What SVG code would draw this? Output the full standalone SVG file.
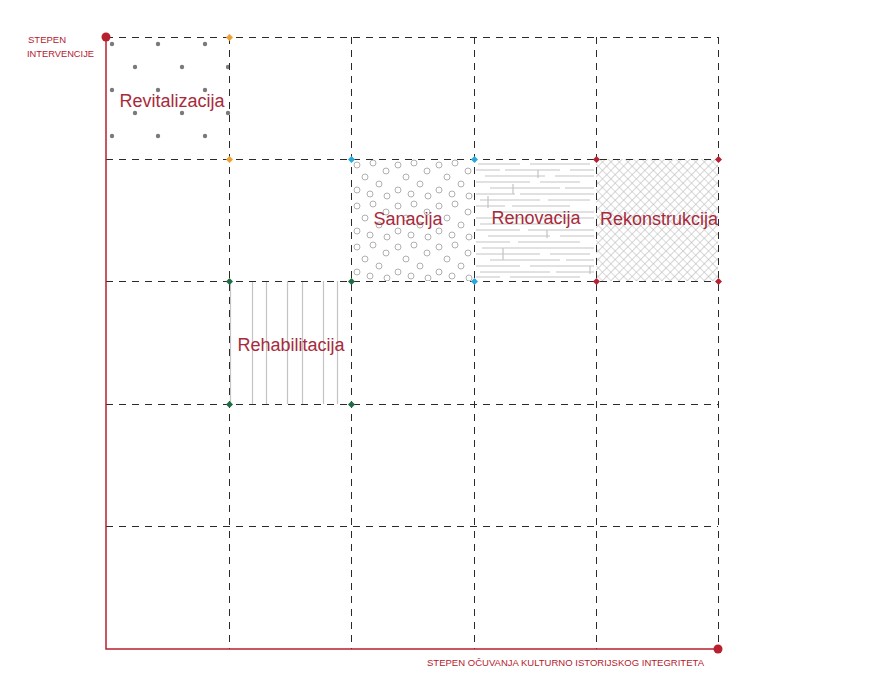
<svg xmlns="http://www.w3.org/2000/svg" width="890" height="694" viewBox="0 0 890 694">
<style>
.grid{stroke:#2a2a2a;stroke-width:1;stroke-dasharray:7 6;fill:none}
.axis{stroke:#b8202f;stroke-width:1.5;fill:none}
.lbl{font-family:"Liberation Sans",Arial,sans-serif;font-size:18px;fill:#a82a3b;text-anchor:middle}
.ax{font-family:"Liberation Sans",Arial,sans-serif;font-size:9.5px;fill:#b5202e}
.pl{stroke:#c4c4c4;stroke-width:1.2;fill:none}
.dot{fill:#7a7a7a}
</style>
<defs>
<path id="dia" d="M0,-3.5 L3.5,0 L0,3.5 L-3.5,0Z"/>
<pattern id="circ" patternUnits="userSpaceOnUse" x="351" y="159" width="41" height="41">
<g fill="none" stroke="#b0b0b0" stroke-width="1">
<circle cx="6" cy="6" r="3"/><circle cx="22" cy="4" r="3"/><circle cx="35" cy="12" r="3"/>
<circle cx="14" cy="18" r="3"/><circle cx="28" cy="25" r="3"/><circle cx="6" cy="31" r="3"/>
<circle cx="19" cy="35" r="3"/><circle cx="36" cy="37" r="3"/>
</g>
</pattern>
<pattern id="hatch" patternUnits="userSpaceOnUse" width="6" height="6" patternTransform="rotate(45)">
<path d="M0,0 H6 M0,0 V6" stroke="#b8b8b8" stroke-width="1.2"/>
</pattern>
</defs>
<rect width="890" height="694" fill="#ffffff"/>

<g id="revitalizacija">
<g class="dot">
<circle cx="112" cy="44" r="2.2"/><circle cx="158" cy="44" r="2.2"/><circle cx="205" cy="44" r="2.2"/>
<circle cx="135" cy="67" r="2.2"/><circle cx="182" cy="67" r="2.2"/><circle cx="228" cy="67" r="2.2"/>
<circle cx="112" cy="90" r="2.2"/><circle cx="158" cy="90" r="2.2"/><circle cx="205" cy="90" r="2.2"/>
<circle cx="135" cy="113" r="2.2"/><circle cx="182" cy="113" r="2.2"/><circle cx="228" cy="113" r="2.2"/>
<circle cx="112" cy="136" r="2.2"/><circle cx="158" cy="136" r="2.2"/><circle cx="205" cy="136" r="2.2"/>
</g>
<text class="lbl" x="172" y="107">Revitalizacija</text>
</g>

<g id="sanacija">
<rect x="351" y="159" width="123" height="122" fill="url(#circ)"/>
</g>

<g id="renovacija">
<g class="pl">
<path d="M478,164H520M530,164H590M476,170H500M505,170H560M570,170H594M485,176H545M555,176H594M476,182H530M540,182H580M490,188H560M565,188H594M476,194H515M520,194H594M480,200H540M548,200H590M476,206H505M512,206H570M495,212H594M476,218H530M540,218H594M480,224H560M476,230H520M528,230H594M488,236H550M560,236H594M476,242H510M518,242H580M482,248H594M476,254H540M550,254H590M490,260H560M566,260H594M476,266H520M530,266H594M480,272H550M556,272H594M476,277H500M510,277H580"/>
<path d="M538,170V178M513,184V194M488,196V208M547,230V238M503,248V260M590,266V274"/>
</g>
</g>

<g id="rekonstrukcija">
<rect x="596" y="159" width="122" height="122" fill="url(#hatch)"/>
</g>

<g id="rehabilitacija">
<g class="pl">
<path d="M230.5,281V404M252.5,281V404M266.5,281V404M287.5,281V404M302.5,281V404M323.5,281V404M337.5,281V404"/>
</g>
</g>

<g id="connectors">
<path class="grid" d="M106,37.5H718M106,159.5H718M106,281.5H718M106,404.5H718M106,526.5H718"/>
<path class="grid" d="M229.5,37V649M351.5,37V649M474.5,37V649M596.5,37V649M718.5,37V649"/>
<path class="axis" d="M106,37V649H718"/>
<circle cx="106" cy="37" r="4.5" fill="#b8202f"/>
<circle cx="718" cy="649" r="4.5" fill="#b8202f"/>
</g>

<g id="markers">
<use href="#dia" x="229.5" y="37.5" fill="#f0a030"/>
<use href="#dia" x="229.5" y="159.5" fill="#f0a030"/>
<use href="#dia" x="351.5" y="159.5" fill="#29a8e0"/>
<use href="#dia" x="474.5" y="159.5" fill="#29a8e0"/>
<use href="#dia" x="474.5" y="281.5" fill="#29a8e0"/>
<use href="#dia" x="229.5" y="281.5" fill="#1f6b45"/>
<use href="#dia" x="351.5" y="281.5" fill="#1f6b45"/>
<use href="#dia" x="229.5" y="404.5" fill="#1f6b45"/>
<use href="#dia" x="351.5" y="404.5" fill="#1f6b45"/>
<use href="#dia" x="596.5" y="159.5" fill="#b52233"/>
<use href="#dia" x="718.5" y="159.5" fill="#b52233"/>
<use href="#dia" x="596.5" y="281.5" fill="#b52233"/>
<use href="#dia" x="718.5" y="281.5" fill="#b52233"/>
</g>

<g id="labels">
<text class="lbl" x="408" y="225">Sanacija</text>
<text class="lbl" x="536" y="224">Renovacija</text>
<text class="lbl" x="659" y="225">Rekonstrukcija</text>
<text class="lbl" x="291" y="351">Rehabilitacija</text>
<text class="ax" x="28" y="43">STEPEN</text>
<text class="ax" x="27" y="57" textLength="67" lengthAdjust="spacingAndGlyphs">INTERVENCIJE</text>
<text class="ax" x="427" y="666" textLength="277" lengthAdjust="spacingAndGlyphs">STEPEN OČUVANJA KULTURNO ISTORIJSKOG INTEGRITETA</text>
</g>
</svg>
